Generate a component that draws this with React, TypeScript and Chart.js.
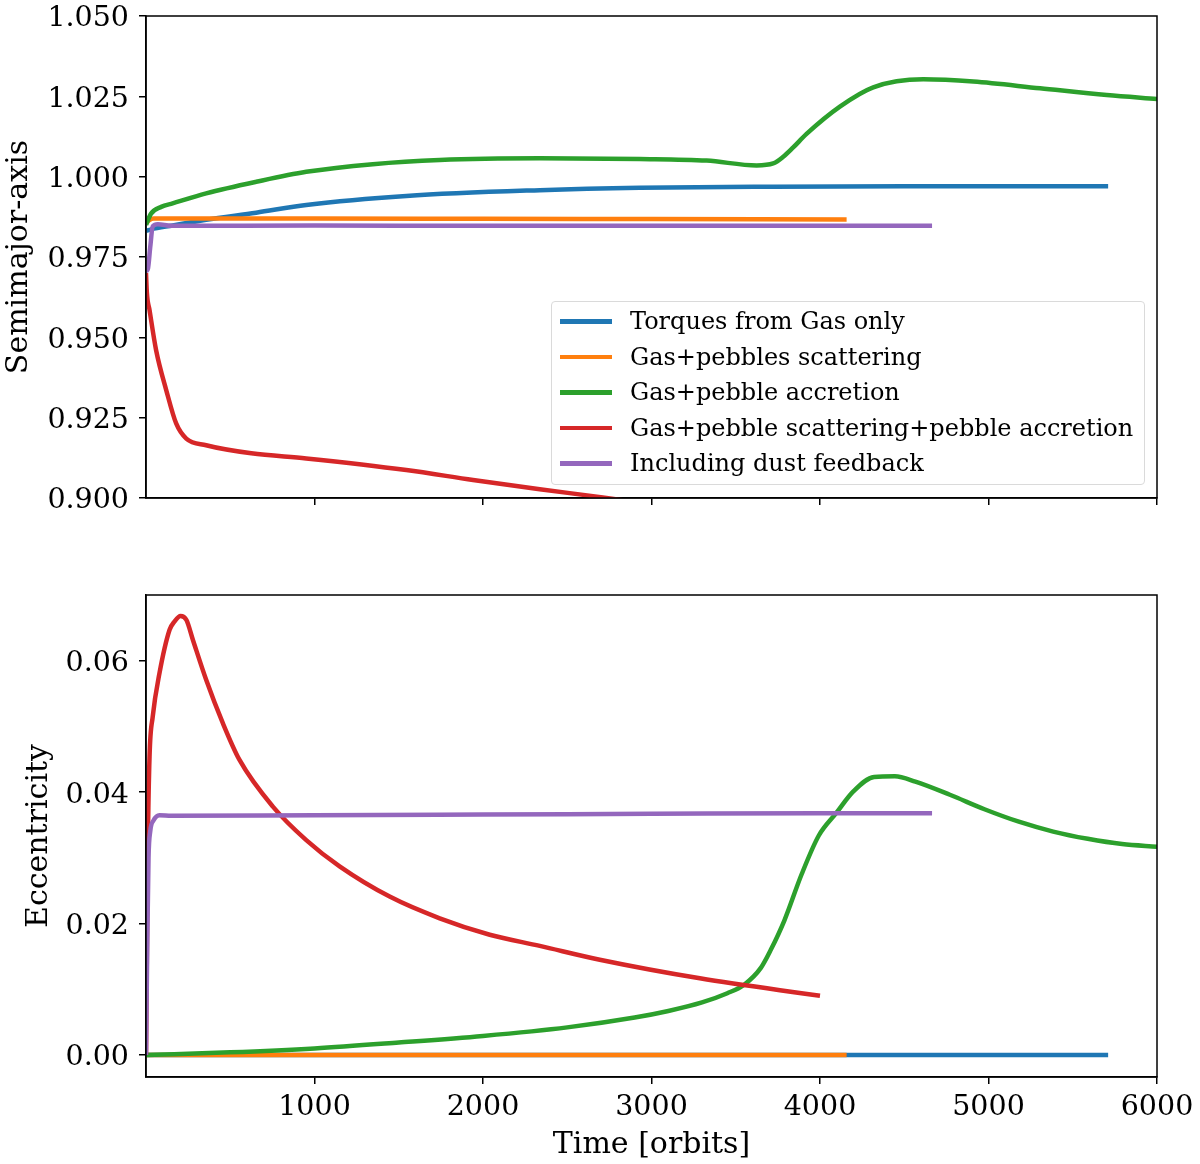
import React, { useEffect, useRef } from 'react';
import { Chart, registerables } from 'chart.js';

Chart.register(...registerables);

const SERIF = "'DejaVu Serif', serif";
const COLORS = ['#1f77b4', '#ff7f0e', '#2ca02c', '#d62728', '#9467bd'];
const seriesNames = [
  'Torques from Gas only',
  'Gas+pebbles scattering',
  'Gas+pebble accretion',
  'Gas+pebble scattering+pebble accretion',
  'Including dust feedback',
];

const timeTicks = [1000, 2000, 3000, 4000, 5000, 6000];
const semiTicks = [0.9, 0.925, 0.95, 0.975, 1.0, 1.025, 1.05];
const eccTicks = [0, 0.02, 0.04, 0.06];

// semimajor axis (top panel)
const tGasA = [0, 30, 159, 357, 654, 951, 1545, 2337, 2930, 3720, 4500, 5710];
const aGas = [0.9831, 0.9836, 0.9848, 0.9866, 0.9888, 0.9912, 0.994, 0.9958, 0.99655, 0.9969, 0.997, 0.997];

const tScatA = [0, 20, 45, 1000, 2000, 3000, 4158];
const aScat = [0.9855, 0.9865, 0.987, 0.987, 0.9869, 0.9868, 0.9867];

const tAccA = [0, 30, 90, 158, 357, 654, 951, 1346, 1743, 2337, 2930, 3327, 3624, 3722, 3782, 3841, 3920, 4118, 4316, 4613, 4910, 5306, 5702, 6000];
const aAcc = [0.985, 0.9885, 0.9906, 0.9917, 0.9948, 0.9984, 1.0015, 1.0039, 1.0052, 1.0057, 1.0055, 1.005, 1.0035, 1.0041, 1.0062, 1.0091, 1.0133, 1.0218, 1.0278, 1.0303, 1.0296, 1.0275, 1.0254, 1.0242];

const tBothA = [0, 5, 21, 60, 120, 179, 239, 357, 625, 951, 1545, 1941, 2337, 2711, 3200, 4000];
const aBoth = [0.97, 0.964, 0.9585, 0.946, 0.9336, 0.9232, 0.9185, 0.9164, 0.9139, 0.9123, 0.9087, 0.9056, 0.9027, 0.9002, 0.8965, 0.891];

const tDustA = [0, 12, 25, 40, 70, 150, 1000, 2000, 3000, 4000, 4665];
const aDust = [0.9704, 0.9715, 0.978, 0.9845, 0.9852, 0.9847, 0.9848, 0.9847, 0.9847, 0.9847, 0.9847];

// eccentricity (bottom panel)
const tGasE = [0, 5710];
const eGas = [0, 0];

const tScatE = [0, 4158];
const eScat = [0, 0];

const tAccE = [0, 500, 1000, 1500, 2000, 2500, 2900, 3100, 3300, 3450, 3550, 3650, 3708, 3789, 3891, 3993, 4096, 4198, 4321, 4444, 4566, 4771, 4976, 5180, 5384, 5589, 5793, 6000];
const eAcc = [0, 0.0004, 0.001, 0.0019, 0.0029, 0.0042, 0.0057, 0.0067, 0.008, 0.0094, 0.0107, 0.0133, 0.016, 0.0205, 0.0275, 0.0334, 0.0368, 0.0401, 0.0423, 0.0424, 0.0416, 0.0396, 0.0374, 0.0355, 0.034, 0.0329, 0.0321, 0.0317];

const tBothE = [0, 5, 11, 21, 40, 80, 140, 170, 205, 240, 278, 357, 456, 555, 753, 951, 1149, 1446, 1743, 2040, 2337, 2693, 3287, 4000];
const eBoth = [0, 0.015, 0.0322, 0.0454, 0.0515, 0.0581, 0.0647, 0.066, 0.0668, 0.0662, 0.0632, 0.0571, 0.0505, 0.0449, 0.0378, 0.0327, 0.0287, 0.0241, 0.0208, 0.0183, 0.0166, 0.0145, 0.01167, 0.009];

const tDustE = [0, 8, 15, 25, 45, 80, 150, 1000, 2000, 3000, 4000, 4665];
const eDust = [0, 0.018, 0.03, 0.034, 0.0357, 0.0365, 0.0364, 0.0365, 0.0366, 0.0367, 0.0368, 0.0368];

type Pt = { x: number; y: number };
const pts = (xs: number[], ys: number[]): Pt[] => xs.map((x, i) => ({ x, y: ys[i] }));

const topSeries = [pts(tGasA, aGas), pts(tScatA, aScat), pts(tAccA, aAcc), pts(tBothA, aBoth), pts(tDustA, aDust)];
const bottomSeries = [pts(tGasE, eGas), pts(tScatE, eScat), pts(tAccE, eAcc), pts(tBothE, eBoth), pts(tDustE, eDust)];

// matplotlib-like box around the axes
const frame = {
  id: 'frame',
  afterDatasetsDraw(chart: any) {
    const { ctx, chartArea: a } = chart;
    ctx.save();
    ctx.strokeStyle = '#000';
    ctx.lineWidth = 1.5;
    ctx.strokeRect(a.left, a.top, a.right - a.left, a.bottom - a.top);
    ctx.restore();
  },
};

interface PanelProps {
  series: Pt[][];
  yMin: number;
  yMax: number;
  yTicks: number[];
  digits: number;
  yTitle: string;
  yTitlePad: number;
  showTime: boolean;
  height: number;
  padTop: number;
  xAxisHeight: number;
}

function Panel(p: PanelProps) {
  const canvasRef = useRef<HTMLCanvasElement>(null);

  useEffect(() => {
    const canvas = canvasRef.current;
    if (!canvas) return;
    const tickFont = { family: SERIF, size: 28.5 };
    const grid = { drawOnChartArea: false, drawTicks: true, tickLength: 7, color: '#000', lineWidth: 1.5 };
    const border = { display: true, color: '#000', width: 1.5 };

    const chart = new Chart(canvas, {
      type: 'line',
      data: {
        datasets: p.series.map((data, i) => ({
          label: seriesNames[i],
          data,
          borderColor: COLORS[i],
          backgroundColor: COLORS[i],
          borderWidth: 4.5,
          pointRadius: 0,
          pointHoverRadius: 0,
          cubicInterpolationMode: 'monotone',
          fill: false,
          order: p.series.length - i,
          clip: 0,
        })),
      },
      options: {
        animation: false,
        responsive: false,
        events: [],
        layout: { padding: { top: p.padTop, right: 43, left: 0, bottom: 0 } },
        plugins: { legend: { display: false }, tooltip: { enabled: false } },
        scales: {
          x: {
            type: 'linear',
            min: 0,
            max: 6000,
            afterBuildTicks: (s: any) => { s.ticks = timeTicks.map((v) => ({ value: v })); },
            afterFit: (s: any) => { s.height = p.xAxisHeight; s.paddingLeft = 0; s.paddingRight = 0; },
            ticks: {
              callback: (v: any) => (p.showTime ? String(v) : ''),
              font: tickFont,
              color: '#000',
              padding: 6,
              maxRotation: 0,
              autoSkip: false,
            },
            grid,
            border,
            title: {
              display: p.showTime,
              text: 'Time [orbits]',
              font: { family: SERIF, size: 30 },
              color: '#000',
              padding: { top: 0, bottom: 1 },
            },
          },
          y: {
            type: 'linear',
            min: p.yMin,
            max: p.yMax,
            afterBuildTicks: (s: any) => { s.ticks = p.yTicks.map((v) => ({ value: v })); },
            afterFit: (s: any) => { s.width = 146; s.paddingTop = 0; s.paddingBottom = 0; },
            ticks: {
              callback: (v: any) => Number(v).toFixed(p.digits),
              font: tickFont,
              color: '#000',
              padding: 10,
              labelOffset: 3,
              autoSkip: false,
            },
            grid,
            border,
            title: {
              display: true,
              text: p.yTitle,
              font: { family: SERIF, size: 30 },
              color: '#000',
              padding: { top: p.yTitlePad, bottom: 0 },
            },
          },
        },
      },
      plugins: [frame],
    } as any);

    return () => chart.destroy();
  }, []);

  return <canvas ref={canvasRef} width={1200} height={p.height} style={{ display: 'block' }} />;
}

function Legend() {
  return (
    <div
      style={{
        position: 'absolute',
        left: 551,
        top: 301,
        width: 592,
        height: 182,
        border: '1px solid #dadada',
        borderRadius: 4,
        background: 'rgba(255,255,255,0.8)',
        fontFamily: SERIF,
        fontSize: 24,
        color: '#000',
      }}
    >
      {seriesNames.map((name, i) => {
        const c = 19 + 35.6 * i;
        return (
          <React.Fragment key={name}>
            <div style={{ position: 'absolute', left: 8, top: c - 2, width: 52, height: 4.5, background: COLORS[i] }} />
            <div style={{ position: 'absolute', left: 78, top: c - 18, height: 36, lineHeight: '36px', whiteSpace: 'nowrap' }}>
              {name}
            </div>
          </React.Fragment>
        );
      })}
    </div>
  );
}

export default function App() {
  return (
    <div style={{ position: 'absolute', left: 0, top: 0, width: 1200, height: 1164, background: '#fff' }}>
      <div style={{ position: 'absolute', left: 0, top: 0 }}>
        <Panel
          series={topSeries}
          yMin={0.9}
          yMax={1.05}
          yTicks={semiTicks}
          digits={3}
          yTitle="Semimajor-axis"
          yTitlePad={1}
          showTime={false}
          height={560}
          padTop={16}
          xAxisHeight={62}
        />
      </div>
      <div style={{ position: 'absolute', left: 0, top: 560 }}>
        <Panel
          series={bottomSeries}
          yMin={-0.00335}
          yMax={0.07}
          yTicks={eccTicks}
          digits={2}
          yTitle="Eccentricity"
          yTitlePad={21}
          showTime={true}
          height={604}
          padTop={35}
          xAxisHeight={87}
        />
      </div>
      <Legend />
    </div>
  );
}
